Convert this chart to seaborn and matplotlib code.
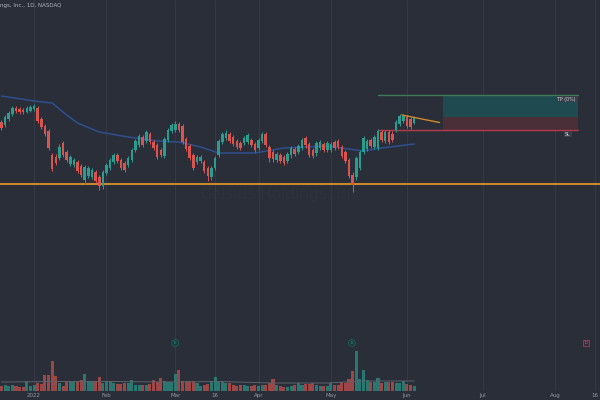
import matplotlib
matplotlib.use("Agg")
import matplotlib.pyplot as plt
import seaborn as sns
import numpy as np

# ---------------- data (daily bars, Dec 20 2021 .. Jun 3 2022) ----------------
opens = [178, 175, 181, 186, 192, 191, 190, 188, 189, 191, 192, 181, 174, 169, 145, 143, 142, 157, 148, 136,
         135, 138, 134, 120, 124, 123, 128, 123, 114, 127, 132, 138, 145, 140, 137, 135, 140, 150, 155, 163,
         159, 166, 158, 155, 150, 144, 160, 169, 170, 176, 174, 161, 154, 145, 138, 139, 138, 132, 123, 132,
         145, 158, 162, 166, 163, 159, 157, 157, 158, 160, 156, 152, 159, 166, 153, 148, 140, 145, 143, 139,
         145, 151, 148, 152, 162, 156, 150, 147, 152, 156, 150, 150, 158, 159, 153, 148, 140, 125, 123, 132,
         148, 151, 160, 153, 152, 168, 159, 168, 166, 170, 176, 179, 183, 181, 177]
closes = [172, 183, 187, 192, 189, 188, 188, 192, 193, 194, 179, 173, 166, 152, 131, 137, 153, 145, 140, 143,
          140, 129, 125, 133, 132, 130, 119, 114, 128, 135, 140, 145, 139, 132, 130, 142, 150, 159, 164, 155,
          168, 158, 152, 143, 145, 161, 170, 175, 176, 170, 158, 151, 142, 132, 143, 143, 129, 124, 132, 142,
          159, 166, 167, 159, 156, 153, 152, 162, 165, 155, 150, 160, 166, 155, 142, 141, 146, 139, 137, 146,
          152, 146, 154, 160, 155, 145, 144, 157, 158, 150, 157, 156, 152, 153, 144, 139, 124, 115, 142, 148,
          162, 159, 154, 163, 169, 160, 168, 158, 160, 178, 184, 184, 174, 173, 182]
highs = [180, 185, 189, 194, 194, 193, 192, 194, 195, 196, 194, 183, 176, 171, 147, 146, 156, 159, 150, 145,
         142, 140, 136, 135, 134, 132, 130, 125, 130, 137, 142, 147, 147, 142, 139, 144, 152, 161, 166, 165,
         170, 168, 160, 157, 152, 163, 172, 177, 179, 178, 176, 163, 156, 147, 145, 145, 140, 134, 134, 144,
         161, 168, 170, 168, 165, 161, 159, 164, 167, 162, 158, 162, 168, 168, 155, 150, 148, 147, 145, 148,
         154, 153, 156, 162, 164, 158, 152, 159, 160, 158, 159, 158, 160, 161, 155, 150, 142, 128, 144, 150,
         164, 161, 162, 165, 171, 170, 170, 170, 169, 180, 186, 186, 185, 183, 184]
lows = [170, 173, 179, 184, 187, 186, 186, 187, 188, 189, 177, 171, 164, 150, 129, 135, 140, 143, 138, 134,
        133, 127, 123, 116, 122, 121, 117, 110, 111, 125, 130, 136, 137, 130, 128, 133, 138, 148, 153, 153,
        157, 156, 150, 141, 143, 142, 158, 167, 168, 168, 156, 149, 140, 130, 136, 137, 127, 119, 120, 130,
        143, 156, 160, 157, 154, 151, 150, 155, 156, 153, 148, 150, 157, 153, 138, 138, 138, 137, 135, 137,
        142, 144, 146, 150, 152, 143, 142, 144, 150, 148, 148, 148, 150, 151, 142, 137, 122, 108, 120, 130,
        146, 149, 152, 151, 150, 158, 157, 156, 158, 168, 174, 177, 172, 171, 176]
volumes = [5, 6.5, 5, 6, 5, 4.5, 4, 10, 5, 6, 8, 7.5, 16, 16, 30, 15, 8, 5.5, 9, 10,
           9, 9.5, 11, 17, 10, 10, 10, 14, 8.5, 9, 9, 8, 7.5, 7.5, 8, 8.5, 11, 6, 6.5, 6,
           6.5, 7, 11, 9, 13, 10, 9.5, 9, 17, 21, 10, 10, 10, 10, 8, 5.5, 6, 7, 10.5, 14,
           10.5, 10, 8, 8, 6.5, 5, 6, 6.5, 5, 5, 6, 5, 6.5, 6.5, 8.5, 12, 6.5, 5, 4.5, 4.5,
           5, 6, 8, 6.5, 7.5, 7.5, 8.5, 6, 5.5, 5.5, 5.5, 8.5, 6, 6.5, 9.5, 8.5, 12.5, 20, 40, 12.5,
           21, 11, 9.5, 9.5, 13.5, 8.5, 9, 9, 9, 8.5, 8.5, 10, 7, 6, 5.5]

# moving average of price, read at a few bars
ma_idx = [0, 9, 14, 18, 21, 27, 35, 43, 49, 55, 60, 70, 78, 90, 100, 105, 114]
ma_vals = [204, 199, 197, 185, 177, 168, 163, 159, 158, 153, 147, 147, 152, 154, 149, 152, 156]
# moving average of volume, read at a few bars
vma_idx = [0, 15, 30, 45, 60, 75, 90, 100, 114]
vma_vals = [9, 9.5, 9.5, 9, 9.5, 8, 8, 10, 10]

tick_pos = [9, 29, 48, 59, 71, 91, 112, 133, 153, 164]
tick_labels = ["2022", "Feb", "Mar", "16", "Apr", "May", "Jun", "Jul", "Aug", "16"]

support_level = 116
tp_level, entry_level, sl_level = 205, 183, 170
pos_start, pos_box_start, pos_end = 104, 122, 159.2
trend_x = [110.6, 121]
trend_y = [185, 177.5]

events_x = [48, 96.8]
div_x = 161.5

# ---------------- style ----------------
BG = "#2a2e39"
GRID = "#353945"
UP = "#2a9d8f"
DOWN = "#d9534f"

sns.set_theme(style="dark")
plt.rcParams["font.family"] = ["DejaVu Sans"]

fig = plt.figure(figsize=(6, 4), dpi=100)
fig.patch.set_facecolor(BG)
ax = fig.add_axes([0, 9 / 400, 1, 391 / 400])
ax.set_facecolor(BG)

idx = np.arange(len(opens))
o = np.array(opens, float)
c = np.array(closes, float)
h = np.array(highs, float)
l = np.array(lows, float)
up = c >= o
cols = np.where(up, UP, DOWN)

# watermark
ax.text(77.5, 106, "Celsius Holdings, Inc.", fontsize=11, color="#2e323d",
        ha="center", va="center", zorder=0.5)

# support line
ax.axhline(support_level, color="#c8892c", lw=1.5, zorder=3)

# candles
ax.vlines(idx, l, h, colors=cols, lw=0.7, zorder=4)
ax.bar(idx, np.abs(c - o) + 0.4, bottom=np.minimum(o, c), width=0.7,
       color=cols, linewidth=0, zorder=5)

# price MA
sns.lineplot(x=ma_idx, y=ma_vals, ax=ax, color="#2f4f8f", lw=1.1, zorder=3)

# position tool
ax.fill_between([pos_box_start, pos_end], entry_level, tp_level, color="#1f4a4f", lw=0, zorder=1)
ax.fill_between([pos_box_start, pos_end], sl_level, entry_level, color="#4a2f39", lw=0, zorder=1)
ax.plot([pos_start, pos_end], [tp_level, tp_level], color="#3f7a5a", lw=1.0, zorder=2)
ax.plot([pos_start, pos_end], [sl_level, sl_level], color="#b8394a", lw=1.0, zorder=2)
ax.text(pos_end - 0.5, tp_level - 1.5, "TP (0%)", fontsize=3.4, color="#d1d4dc", ha="right", va="top",
        bbox=dict(boxstyle="square,pad=0.2", fc="#3a3e49", ec="none"), zorder=6)
ax.text(pos_end - 2.0, sl_level - 1.5, "SL", fontsize=3.4, color="#d1d4dc", ha="right", va="top",
        bbox=dict(boxstyle="square,pad=0.2", fc="#3a3e49", ec="none"), zorder=6)
ax.plot(trend_x, trend_y, color="#d08a2a", lw=1.0, zorder=6)

# events
for ex in events_x:
    ax.text(ex, -43, "E", fontsize=3, color=UP, ha="center", va="center",
            bbox=dict(boxstyle="circle,pad=0.35", fc="#1c3a3d", ec="#1f5f58", lw=0.6), zorder=6)
ax.text(div_x, -43, "D", fontsize=3, color="#d06080", ha="center", va="center",
        bbox=dict(boxstyle="square,pad=0.35", fc="#3a2b38", ec="#a03a60", lw=0.6), zorder=6)

ax.set_xlim(-0.414, 165.33)
ax.set_ylim(-91, 300)
ax.set_yticks([])
ax.set_xticks(tick_pos)
ax.set_xticklabels(tick_labels, fontsize=4, color="#9598a1")
ax.tick_params(axis="x", length=0, pad=1.2)
ax.grid(axis="x", color=GRID, lw=0.8)
ax.grid(axis="y", visible=False)
for s in ax.spines.values():
    s.set_visible(False)
ax.set_xlabel("")
ax.set_ylabel("")

# volume pane (overlay)
ax2 = ax.twinx()
ax2.set_zorder(ax.get_zorder() + 1)
ax2.patch.set_visible(False)
ax2.bar(idx, volumes, width=0.85, color=cols, alpha=0.65, linewidth=0)
sns.lineplot(x=vma_idx, y=vma_vals, ax=ax2, color="#5d616c", lw=0.7)
ax2.set_ylim(0, 391)
ax2.set_yticks([])
ax2.grid(False)
for s in ax2.spines.values():
    s.set_visible(False)
ax2.set_ylabel("")

fig.text(0.0, 1 - 5.5 / 400, "ngs, Inc., 1D, NASDAQ", fontsize=4, color="#b2b5be",
         ha="left", va="center")

fig.savefig("out.png", dpi=100, facecolor=BG)
